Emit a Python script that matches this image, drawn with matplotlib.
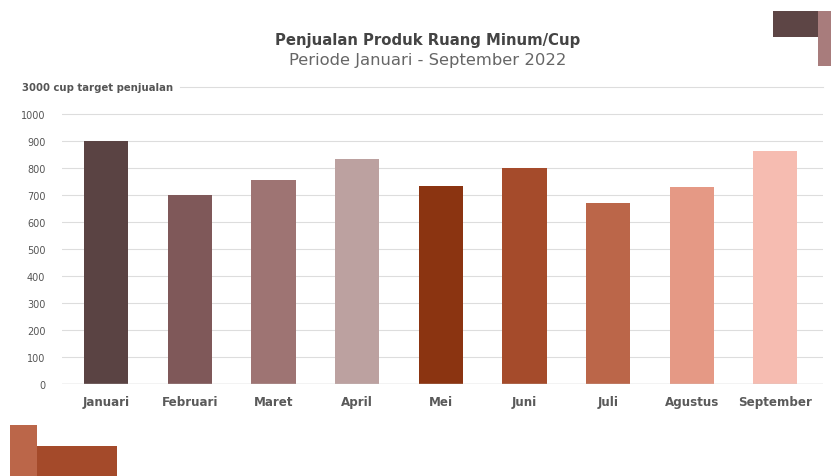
import matplotlib.pyplot as plt
from matplotlib.patches import Rectangle

plt.rcParams['font.family'] = ['DejaVu Sans']

# data
bulan = ["Januari", "Februari", "Maret", "April", "Mei", "Juni", "Juli", "Agustus", "September"]
penjualan = [900, 700, 755, 835, 735, 800, 670, 730, 862]
warna = ["#5a4343", "#7f5859", "#9e7473", "#bca1a0", "#8b3411", "#a54b2b",
         "#bb6649", "#e59985", "#f6bcb1"]
yticks = [0, 100, 200, 300, 400, 500, 600, 700, 800, 900, 1000]
target_label = "3000 cup target penjualan"

W, H = 831, 477
fig = plt.figure(figsize=(W / 100, H / 100), dpi=100)

# axes: 0 at y=385px, 1100 at y=88px
ax = fig.add_axes([62 / W, (H - 385) / H, (823 - 62) / W, (385 - 88) / H])
x = range(len(bulan))
ax.bar(x, penjualan, width=0.53, color=warna, zorder=3)
ax.set_xlim(-0.53, len(bulan) - 1 + 0.57)
ax.set_ylim(0, 1100)

ax.set_yticks(yticks)
ax.set_yticklabels([str(v) for v in yticks], fontsize=7, color="#555555")
ax.set_xticks(list(x))
ax.set_xticklabels(bulan, fontsize=8.6, color="#5a5a5a", fontweight="bold")
ax.tick_params(axis="both", length=0)
ax.tick_params(axis="y", pad=12)
ax.tick_params(axis="x", pad=8)
ax.grid(axis="y", color="#dddddd", linewidth=0.8, zorder=0)
for s in ax.spines.values():
    s.set_visible(False)
ax.axhline(0, color="#cccccc", linewidth=1, zorder=4)

# top line with target text
fig.text(22 / W, (H - 88) / H, target_label, fontsize=7.3, fontweight="bold",
         color="#555555", va="center", ha="left")
fig.add_artist(plt.Line2D([180 / W, 823 / W], [(H - 88) / H] * 2,
                          color="#dddddd", linewidth=0.8))

# titles
fig.text(428 / W, (H - 40) / H, "Penjualan Produk Ruang Minum/Cup", fontsize=10.7,
         fontweight="bold", color="#444444", ha="center", va="center")
fig.text(428 / W, (H - 61) / H, "Periode Januari - September 2022", fontsize=11.8,
         color="#666666", ha="center", va="center")

# decorative blocks
def blok(x0, y0, x1, y1, c):
    fig.add_artist(Rectangle((x0 / W, (H - y1) / H), (x1 - x0) / W, (y1 - y0) / H,
                             transform=fig.transFigure, color=c, lw=0))

blok(773, 12, 818, 38, "#5d4545")
blok(818, 12, 831, 67, "#a87c7c")
blok(10, 426, 37, 477, "#bb6649")
blok(37, 447, 117, 477, "#a44a2a")

fig.savefig("out.png", dpi=100)
